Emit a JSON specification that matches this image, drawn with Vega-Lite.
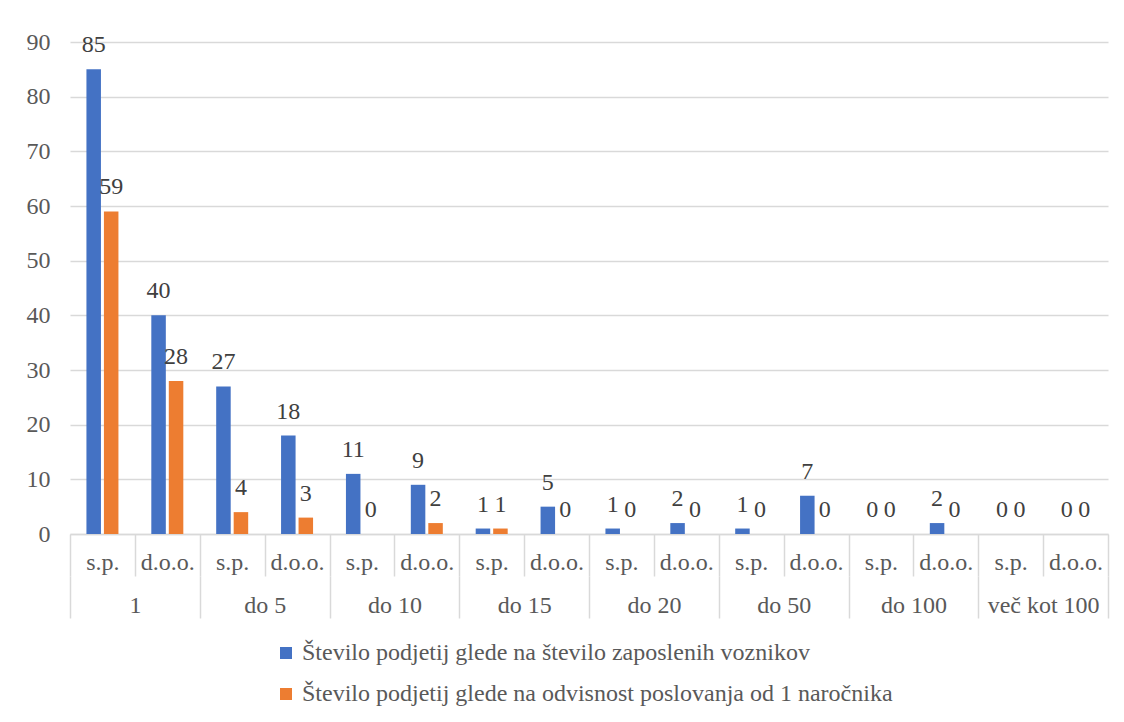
{
  "$schema": "https://vega.github.io/schema/vega-lite/v6.json",
  "width": 1038,
  "height": 492,
  "autosize": {"type": "none"},
  "padding": {"left": 70, "top": 42, "right": 16, "bottom": 188},
  "background": "white",
  "config": {
    "view": {"stroke": null},
    "font": "Liberation Serif"
  },
  "data": {
    "values": [
      {"key": "1|s.p.", "grp": "1", "sub": "s.p.", "series": "Število podjetij glede na število zaposlenih voznikov", "value": 85},
      {"key": "1|d.o.o.", "grp": "1", "sub": "d.o.o.", "series": "Število podjetij glede na število zaposlenih voznikov", "value": 40},
      {"key": "do 5|s.p.", "grp": "do 5", "sub": "s.p.", "series": "Število podjetij glede na število zaposlenih voznikov", "value": 27},
      {"key": "do 5|d.o.o.", "grp": "do 5", "sub": "d.o.o.", "series": "Število podjetij glede na število zaposlenih voznikov", "value": 18},
      {"key": "do 10|s.p.", "grp": "do 10", "sub": "s.p.", "series": "Število podjetij glede na število zaposlenih voznikov", "value": 11},
      {"key": "do 10|d.o.o.", "grp": "do 10", "sub": "d.o.o.", "series": "Število podjetij glede na število zaposlenih voznikov", "value": 9},
      {"key": "do 15|s.p.", "grp": "do 15", "sub": "s.p.", "series": "Število podjetij glede na število zaposlenih voznikov", "value": 1},
      {"key": "do 15|d.o.o.", "grp": "do 15", "sub": "d.o.o.", "series": "Število podjetij glede na število zaposlenih voznikov", "value": 5},
      {"key": "do 20|s.p.", "grp": "do 20", "sub": "s.p.", "series": "Število podjetij glede na število zaposlenih voznikov", "value": 1},
      {"key": "do 20|d.o.o.", "grp": "do 20", "sub": "d.o.o.", "series": "Število podjetij glede na število zaposlenih voznikov", "value": 2},
      {"key": "do 50|s.p.", "grp": "do 50", "sub": "s.p.", "series": "Število podjetij glede na število zaposlenih voznikov", "value": 1},
      {"key": "do 50|d.o.o.", "grp": "do 50", "sub": "d.o.o.", "series": "Število podjetij glede na število zaposlenih voznikov", "value": 7},
      {"key": "do 100|s.p.", "grp": "do 100", "sub": "s.p.", "series": "Število podjetij glede na število zaposlenih voznikov", "value": 0},
      {"key": "do 100|d.o.o.", "grp": "do 100", "sub": "d.o.o.", "series": "Število podjetij glede na število zaposlenih voznikov", "value": 2},
      {"key": "več kot 100|s.p.", "grp": "več kot 100", "sub": "s.p.", "series": "Število podjetij glede na število zaposlenih voznikov", "value": 0},
      {"key": "več kot 100|d.o.o.", "grp": "več kot 100", "sub": "d.o.o.", "series": "Število podjetij glede na število zaposlenih voznikov", "value": 0},
      {"key": "1|s.p.", "grp": "1", "sub": "s.p.", "series": "Število podjetij glede na odvisnost poslovanja od 1 naročnika", "value": 59},
      {"key": "1|d.o.o.", "grp": "1", "sub": "d.o.o.", "series": "Število podjetij glede na odvisnost poslovanja od 1 naročnika", "value": 28},
      {"key": "do 5|s.p.", "grp": "do 5", "sub": "s.p.", "series": "Število podjetij glede na odvisnost poslovanja od 1 naročnika", "value": 4},
      {"key": "do 5|d.o.o.", "grp": "do 5", "sub": "d.o.o.", "series": "Število podjetij glede na odvisnost poslovanja od 1 naročnika", "value": 3},
      {"key": "do 10|s.p.", "grp": "do 10", "sub": "s.p.", "series": "Število podjetij glede na odvisnost poslovanja od 1 naročnika", "value": 0},
      {"key": "do 10|d.o.o.", "grp": "do 10", "sub": "d.o.o.", "series": "Število podjetij glede na odvisnost poslovanja od 1 naročnika", "value": 2},
      {"key": "do 15|s.p.", "grp": "do 15", "sub": "s.p.", "series": "Število podjetij glede na odvisnost poslovanja od 1 naročnika", "value": 1},
      {"key": "do 15|d.o.o.", "grp": "do 15", "sub": "d.o.o.", "series": "Število podjetij glede na odvisnost poslovanja od 1 naročnika", "value": 0},
      {"key": "do 20|s.p.", "grp": "do 20", "sub": "s.p.", "series": "Število podjetij glede na odvisnost poslovanja od 1 naročnika", "value": 0},
      {"key": "do 20|d.o.o.", "grp": "do 20", "sub": "d.o.o.", "series": "Število podjetij glede na odvisnost poslovanja od 1 naročnika", "value": 0},
      {"key": "do 50|s.p.", "grp": "do 50", "sub": "s.p.", "series": "Število podjetij glede na odvisnost poslovanja od 1 naročnika", "value": 0},
      {"key": "do 50|d.o.o.", "grp": "do 50", "sub": "d.o.o.", "series": "Število podjetij glede na odvisnost poslovanja od 1 naročnika", "value": 0},
      {"key": "do 100|s.p.", "grp": "do 100", "sub": "s.p.", "series": "Število podjetij glede na odvisnost poslovanja od 1 naročnika", "value": 0},
      {"key": "do 100|d.o.o.", "grp": "do 100", "sub": "d.o.o.", "series": "Število podjetij glede na odvisnost poslovanja od 1 naročnika", "value": 0},
      {"key": "več kot 100|s.p.", "grp": "več kot 100", "sub": "s.p.", "series": "Število podjetij glede na odvisnost poslovanja od 1 naročnika", "value": 0},
      {"key": "več kot 100|d.o.o.", "grp": "več kot 100", "sub": "d.o.o.", "series": "Število podjetij glede na odvisnost poslovanja od 1 naročnika", "value": 0}
    ]
  },
  "layer": [
    {
      "encoding": {
        "x": {
          "field": "key",
          "type": "nominal",
          "sort": null,
          "scale": {"type": "band", "paddingInner": 0, "paddingOuter": 0},
          "axis": {
            "title": null,
            "labelAngle": 0,
            "labelExpr": "split(datum.label, '|')[1]",
            "tickBand": "extent",
            "tickSize": 42,
            "tickColor": "#d9d9d9",
            "tickWidth": 1.5,
            "domainColor": "#d9d9d9",
            "domainWidth": 1.5,
            "labelPadding": -7,
            "labelBaseline": "alphabetic",
            "labelFontSize": 24,
            "labelFont": "Liberation Serif",
            "labelColor": "#595959",
            "grid": false
          }
        },
        "xOffset": {
          "field": "series",
          "type": "nominal",
          "sort": null,
          "scale": {"paddingInner": 0.17, "paddingOuter": 0.94}
        },
        "y": {
          "field": "value",
          "type": "quantitative",
          "scale": {"domain": [0, 90], "nice": false},
          "axis": {
            "title": null,
            "values": [0, 10, 20, 30, 40, 50, 60, 70, 80, 90],
            "grid": true,
            "gridColor": "#d9d9d9",
            "gridWidth": 1.5,
            "domain": false,
            "ticks": false,
            "labelPadding": 20,
            "labelFontSize": 24,
            "labelFont": "Liberation Serif",
            "labelColor": "#595959"
          }
        }
      },
      "layer": [
        {
          "mark": {"type": "bar"},
          "encoding": {
            "color": {
              "field": "series",
              "type": "nominal",
              "scale": {
                "domain": ["Število podjetij glede na število zaposlenih voznikov", "Število podjetij glede na odvisnost poslovanja od 1 naročnika"],
                "range": ["#4472C4", "#ED7D31"]
              },
              "legend": {
                "title": null,
                "orient": "none",
                "legendX": 204,
                "legendY": 599,
                "direction": "vertical",
                "symbolType": "square",
                "symbolSize": 144,
                "symbolStrokeWidth": 0,
                "labelFontSize": 24,
                "labelFont": "Liberation Serif",
                "labelColor": "#595959",
                "labelOffset": 4,
                "labelLimit": 0,
                "rowPadding": 17,
                "padding": 0
              }
            }
          }
        },
        {
          "mark": {"type": "text", "baseline": "alphabetic", "dy": -17, "fontSize": 24, "font": "Liberation Serif", "color": "#404040"},
          "encoding": {
            "text": {"field": "value", "type": "quantitative"}
          }
        }
      ]
    },
    {
      "mark": {"type": "point", "opacity": 0},
      "encoding": {
        "x": {
          "field": "grp",
          "type": "nominal",
          "sort": null,
          "scale": {"type": "band", "paddingInner": 0, "paddingOuter": 0},
          "axis": {
            "title": null,
            "orient": "bottom",
            "offset": 42,
            "labelAngle": 0,
            "domain": false,
            "tickBand": "extent",
            "tickSize": 42,
            "tickColor": "#d9d9d9",
            "tickWidth": 1.5,
            "labelPadding": -6,
            "labelBaseline": "alphabetic",
            "labelFontSize": 24,
            "labelFont": "Liberation Serif",
            "labelColor": "#595959",
            "grid": false
          }
        },
        "y": {"datum": 0, "type": "quantitative"}
      }
    }
  ],
  "resolve": {"scale": {"x": "independent"}, "axis": {"x": "independent"}}
}
